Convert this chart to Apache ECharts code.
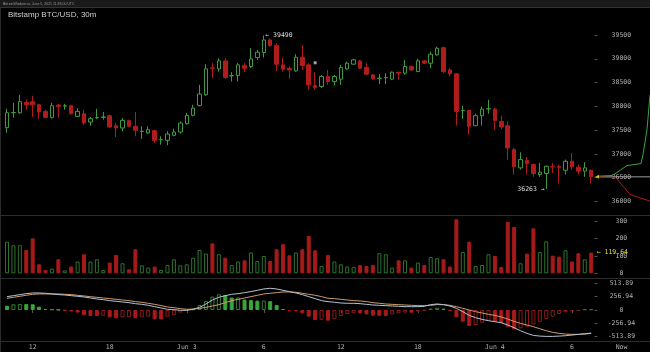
<!DOCTYPE html>
<html>
<head>
<meta charset="utf-8">
<title>Bitstamp BTC/USD, 30m</title>
<script src="https://cdn.jsdelivr.net/npm/echarts@6/dist/echarts.min.js"></script>
<style>
  html, body { margin: 0; padding: 0; background: #000; }
  #chart { width: 650px; height: 352px; }
</style>
</head>
<body>
<div id="chart"></div>
<script>
// 30m candles, Jun 2 10:00 -> Jun 4 07:30 (UTC)
const opens = [37551, 37865, 37865, 38082, 38096, 38033, 37893, 37767, 38026, 38005,
  38012, 37788, 37844, 37670, 37760, 37770, 37802, 37593, 37544, 37698,
  37579, 37470, 37440, 37488, 37295, 37285, 37390, 37460, 37635, 37810,
  38019, 38243, 38807, 38787, 38955, 38640, 38647, 38857, 38836, 39025,
  39130, 39395, 39276, 38871, 38802, 38745, 39032, 38871, 38438, 38417,
  38626, 38521, 38571, 38787, 38886, 38955, 38815, 38662, 38585, 38600,
  38571, 38718, 38697, 38836, 38731, 38955, 38907, 39081, 39234, 38766,
  38683, 37910, 37915, 37593, 37802, 37945, 37942, 37683, 37593, 37090,
  36706, 36859, 36775, 36566, 36587, 36733, 36730, 36656, 36845, 36720,
  36636, 36656];
const closes = [37865, 37870, 38096, 38033, 38033, 37880, 37767, 38012, 37998, 38012,
  37844, 37893, 37649, 37740, 37767, 37775, 37565, 37544, 37704, 37579,
  37495, 37475, 37510, 37285, 37300, 37418, 37460, 37649, 37810, 37963,
  38257, 38787, 38800, 38955, 38605, 38645, 38871, 38802, 38997, 39137,
  39395, 39276, 38886, 38781, 38766, 39032, 38857, 38452, 38396, 38626,
  38521, 38626, 38815, 38907, 38976, 38802, 38676, 38578, 38592, 38605,
  38718, 38697, 38836, 38766, 38955, 38907, 39095, 39221, 38731, 38683,
  37893, 37915, 37579, 37802, 37942, 37950, 37704, 37565, 37125, 36727,
  36880, 36796, 36587, 36613, 36740, 36725, 36720, 36845, 36727, 36636,
  36706, 36517];
const highs = [37949, 38075, 38242, 38138, 38221, 38054, 37928, 38075, 38054, 38054,
  38033, 37963, 37928, 37775, 37949, 37880, 37823, 37649, 37754, 37719,
  37880, 37579, 37579, 37510, 37370, 37475, 37530, 37683, 37860, 38033,
  38452, 38886, 38907, 39012, 39012, 38718, 38907, 38907, 39221, 39186,
  39490, 39430, 39326, 39032, 38836, 39095, 39290, 38907, 38718, 38662,
  38766, 38662, 38871, 38941, 38997, 38976, 38907, 38676, 38676, 38697,
  38731, 38718, 38976, 38857, 38997, 38976, 39150, 39255, 39255, 38802,
  38697, 38012, 37928, 37844, 37998, 38138, 37963, 37802, 37683, 37125,
  37034, 36936, 36796, 36810, 36755, 36810, 36775, 36880, 37020, 36775,
  36824, 36670];
const lows = [37446, 37760, 37844, 37928, 37781, 37740, 37760, 37740, 37760, 37928,
  37830, 37775, 37614, 37593, 37733, 37719, 37544, 37356, 37474, 37565,
  37369, 37314, 37425, 37230, 37195, 37180, 37370, 37425, 37614, 37788,
  37998, 38221, 38592, 38730, 38578, 38522, 38522, 38718, 38802, 38976,
  39025, 39255, 38745, 38730, 38578, 38730, 38766, 38347, 38347, 38383,
  38452, 38438, 38452, 38766, 38871, 38787, 38662, 38557, 38466, 38466,
  38557, 38557, 38662, 38745, 38718, 38886, 38802, 39067, 38697, 38626,
  37593, 37733, 37405, 37579, 37593, 37844, 37509, 37523, 36880, 36566,
  36670, 36566, 36517, 36517, 36263, 36600, 36377, 36566, 36670, 36566,
  36517, 36377];
const volumes = [183, 162, 162, 135, 202, 52, 19, 27, 81, 17,
  39, 68, 110, 68, 81, 19, 62, 106, 58, 23,
  139, 46, 33, 39, 19, 48, 81, 46, 52, 90,
  135, 114, 173, 110, 90, 48, 68, 75, 120, 71,
  100, 71, 139, 168, 104, 120, 139, 216, 133, 42,
  106, 68, 52, 39, 37, 48, 42, 48, 116, 110,
  33, 75, 75, 33, 62, 48, 94, 87, 81, 39,
  312, 123, 183, 42, 48, 110, 100, 37, 297, 268,
  58, 114, 260, 123, 185, 102, 96, 133, 68, 116,
  81, 119.64];
const macdDif = [257, 276, 296, 315, 328, 328, 322, 309, 296, 289,
  276, 264, 251, 231, 212, 199, 180, 167, 154, 141,
  122, 109, 90, 64, 39, 13, 6, -6, -6, 13,
  51, 116, 193, 244, 276, 302, 315, 334, 354, 379,
  405, 418, 405, 379, 354, 328, 296, 257, 219, 180,
  161, 148, 135, 129, 129, 122, 109, 96, 90, 84,
  77, 71, 64, 64, 64, 71, 103, 116, 103, 77,
  32, -32, -103, -148, -180, -206, -225, -244, -289, -341,
  -399, -450, -489, -502, -508, -508, -502, -495, -482, -469,
  -457, -444];
const macdDea = [225, 244, 264, 283, 302, 309, 309, 309, 309, 302,
  296, 283, 270, 257, 244, 231, 219, 206, 193, 180,
  161, 148, 129, 109, 84, 58, 45, 26, 13, 19,
  32, 51, 77, 103, 141, 180, 206, 231, 257, 283,
  309, 322, 334, 347, 347, 341, 322, 302, 283, 257,
  225, 219, 206, 193, 180, 174, 161, 141, 129, 116,
  109, 103, 96, 90, 84, 84, 90, 103, 103, 90,
  64, 32, 0, -32, -58, -84, -103, -135, -174, -219,
  -257, -289, -322, -360, -399, -431, -450, -463, -469, -469,
  -463, -450];
const macdHist = [83, 110, 116, 114, 110, 64, 19, 13, 6, -10,
  -30, -50, -96, -116, -118, -110, -141, -161, -141, -140,
  -161, -141, -129, -180, -183, -129, -96, -50, -13, 13,
  96, 174, 257, 302, 290, 240, 242, 200, 190, 180,
  182, 170, 96, 19, -19, -26, -64, -129, -193, -190,
  -206, -180, -116, -77, -64, -66, -84, -110, -112, -114,
  -84, -64, -50, -52, -26, -13, 26, 45, 26, -19,
  -141, -225, -309, -290, -245, -206, -225, -257, -322, -373,
  -354, -322, -277, -225, -174, -129, -77, -45, -19, -13,
  13, 14];

// x axis labels by candle index
const xLabels = { 4: '12', 16: '18', 28: 'Jun 3', 40: '6', 52: '12', 64: '18', 76: 'Jun 4', 88: '6' };
const macdTickLabels = ['-513.89', '-256.94', '0', '256.94', '513.89'];

// small white order marker [candle index, price]
const orderMarks = [[48, 38915]];

// order book depth at the right edge (x = px offset past last candle, y = price)
const bidX = [1, 15, 20, 30, 44, 46, 50, 53];
const bidPrice = [36530, 36545, 36608, 36754, 36796, 36985, 37509, 38242];
const askX = [1, 19, 23, 33, 46, 53];
const askPrice = [36517, 36496, 36392, 36146, 36056, 36006];

const start = Date.UTC(2021, 5, 2, 10, 0);
const categories = opens.map((_, i) => {
  const d = new Date(start + i * 30 * 60 * 1000);
  return (d.getUTCMonth() + 1) + '-' + d.getUTCDate() + ' ' + d.getUTCHours() + ':' + String(d.getUTCMinutes()).padStart(2, '0');
});
const lastPrice = closes[closes.length - 1];

const GREEN = '#3f9a3f';
const RED = '#b01c1c';
const monoFont = 'DejaVu Sans Mono';
const labelColor = '#b0b0b0';

const candleData = opens.map((o, i) => [o, closes[i], lows[i], highs[i]]);

const volumeData = volumes.map((v, i) => {
  const up = closes[i] >= opens[i];
  return {
    value: v,
    itemStyle: up
      ? { color: 'rgba(0,0,0,0)', borderColor: '#2f722f', borderWidth: 1 }
      : { color: '#a51a1a', borderColor: '#a51a1a', borderWidth: 1 }
  };
});

// filled when the histogram fell vs the previous bar, hollow when it rose
const histData = macdHist.map((v, i) => {
  const filled = i === 0 || v < macdHist[i - 1];
  const c = v >= 0 ? (filled ? '#3aa53a' : '#2f7f2f') : (filled ? '#a81a1a' : '#8c1a1a');
  return {
    value: v,
    itemStyle: { color: filled ? c : 'rgba(0,0,0,0)', borderColor: c, borderWidth: 1 }
  };
});

const GL = 3.8, GW = 590.6;
const axisLabelRight = {
  color: labelColor, fontFamily: monoFont, fontSize: 6.5, align: 'center', margin: 27
};

const chart = echarts.init(document.getElementById('chart'));
const option = {
  backgroundColor: '#000',
  animation: false,
  graphic: [
    { type: 'rect', shape: { x: 0, y: 0, width: 650, height: 7 }, style: { fill: '#1a1a1a' } },
    { type: 'line', shape: { x1: 0, y1: 7.5, x2: 650, y2: 7.5 }, style: { stroke: '#333', lineWidth: 1 } },
    { type: 'text', x: 3, y: 3.6, style: { text: 'BitcoinWisdom.io, June 5, 2021 11:33:00 UTC', fill: '#999', font: '3.5px sans-serif', verticalAlign: 'middle' } },
    { type: 'text', x: 8, y: 14.5, style: { text: 'Bitstamp BTC/USD, 30m', fill: '#cfcfcf', font: '8px "Liberation Sans", Arial, sans-serif', verticalAlign: 'middle' } },
    { type: 'line', shape: { x1: 0.5, y1: 7.5, x2: 0.5, y2: 352 }, style: { stroke: '#2c2c2c', lineWidth: 1 } },
    { type: 'line', shape: { x1: 0, y1: 215.5, x2: 650, y2: 215.5 }, style: { stroke: '#2c2c2c', lineWidth: 1 } },
    { type: 'line', shape: { x1: 0, y1: 278.5, x2: 650, y2: 278.5 }, style: { stroke: '#2c2c2c', lineWidth: 1 } },
    { type: 'line', shape: { x1: 0, y1: 341.5, x2: 650, y2: 341.5 }, style: { stroke: '#2c2c2c', lineWidth: 1 } },
    { type: 'text', x: 621.5, y: 347, style: { text: 'Now', fill: labelColor, font: '6.5px "DejaVu Sans Mono"', align: 'center', verticalAlign: 'middle' } }
  ],
  grid: [
    { left: GL, width: GW, top: 11.2, height: 214 },     // price
    { left: GL, width: GW, top: 204.1, height: 69.2 },   // volume
    { left: GL, width: GW, top: 283.3, height: 53.4 },   // macd
    { left: 597, width: 53, top: 11.2, height: 214 }     // depth
  ],
  xAxis: [
    { type: 'category', gridIndex: 0, data: categories, show: false },
    { type: 'category', gridIndex: 1, data: categories, show: false },
    {
      type: 'category', gridIndex: 2, data: categories, offset: 5,
      axisLine: { show: false },
      axisTick: { show: true, alignWithLabel: true, length: 3, interval: (i) => i in xLabels, lineStyle: { color: '#555' } },
      axisLabel: {
        interval: (i) => i in xLabels,
        formatter: (v, i) => xLabels[i] || '',
        color: labelColor, fontFamily: monoFont, fontSize: 6.5, margin: 2
      }
    },
    { type: 'value', gridIndex: 3, min: 0, max: 53, show: false }
  ],
  yAxis: [
    {
      type: 'value', gridIndex: 0, position: 'right', min: 35500, max: 40000, interval: 500,
      splitLine: { show: false }, axisLine: { show: false },
      axisTick: { show: true, length: 3, lineStyle: { color: '#555' } },
      axisLabel: Object.assign({ showMinLabel: false, showMaxLabel: false, formatter: (v) => String(v) }, axisLabelRight)
    },
    {
      type: 'value', gridIndex: 1, position: 'right', min: 0, max: 400, interval: 100,
      splitLine: { show: false }, axisLine: { show: false },
      axisTick: { show: true, length: 3, lineStyle: { color: '#555' } },
      axisLabel: Object.assign({ showMaxLabel: false, formatter: (v) => String(v) }, axisLabelRight)
    },
    {
      type: 'value', gridIndex: 2, position: 'right', min: -513.89, max: 513.89, interval: 256.945,
      splitLine: { show: false }, axisLine: { show: false },
      axisTick: { show: true, length: 3, lineStyle: { color: '#555' } },
      axisLabel: Object.assign({ formatter: (v) => macdTickLabels[Math.round(v / 256.945) + 2] }, axisLabelRight)
    },
    { type: 'value', gridIndex: 3, min: 35500, max: 40000, show: false }
  ],
  series: [
    {
      type: 'candlestick', xAxisIndex: 0, yAxisIndex: 0, data: candleData, barWidth: 4,
      itemStyle: { color: '#000', color0: RED, borderColor: GREEN, borderColor0: RED, borderWidth: 1 },
      markPoint: {
        symbol: 'circle', symbolSize: 1, itemStyle: { color: 'rgba(0,0,0,0)' },
        label: { color: '#dcdcdc', fontFamily: monoFont, fontSize: 6.5 },
        data: [
          { type: 'max', valueDim: 'highest', label: { position: 'right', distance: 1, formatter: (p) => '← ' + p.value } },
          { type: 'min', valueDim: 'lowest', label: { position: 'left', distance: 1, formatter: (p) => p.value + ' →' } }
        ]
      },
      z: 5
    },
    {
      type: 'scatter', xAxisIndex: 0, yAxisIndex: 0, data: orderMarks,
      symbol: 'rect', symbolSize: 3, itemStyle: { color: '#c8c8c8' }
    },
    {
      type: 'bar', xAxisIndex: 1, yAxisIndex: 1, data: volumeData, barWidth: 4,
      markPoint: {
        symbol: 'circle', symbolSize: 1, itemStyle: { color: 'rgba(0,0,0,0)' },
        data: [{ coord: [volumes.length - 1, volumes[volumes.length - 1]], value: volumes[volumes.length - 1] }],
        label: { position: 'right', distance: 5, formatter: (p) => '← ' + p.value, color: '#e8e030', fontFamily: monoFont, fontSize: 6.5 }
      }
    },
    { type: 'bar', xAxisIndex: 2, yAxisIndex: 2, data: histData, barWidth: 4 },
    {
      type: 'line', xAxisIndex: 2, yAxisIndex: 2, data: macdDea, symbol: 'none',
      lineStyle: { color: '#d09a6a', width: 1 }, z: 4
    },
    {
      type: 'line', xAxisIndex: 2, yAxisIndex: 2, data: macdDif, symbol: 'none',
      lineStyle: { color: '#b4c4d8', width: 1 }, z: 4
    },
    {
      type: 'line', xAxisIndex: 3, yAxisIndex: 3, data: [[0, lastPrice], [53, lastPrice]], symbol: 'none',
      lineStyle: { color: '#9a9a9a', width: 1 }
    },
    {
      type: 'line', xAxisIndex: 3, yAxisIndex: 3, data: bidX.map((x, i) => [x, bidPrice[i]]), symbol: 'none',
      lineStyle: { color: '#3aa53a', width: 1 }
    },
    {
      type: 'line', xAxisIndex: 3, yAxisIndex: 3, data: askX.map((x, i) => [x, askPrice[i]]), symbol: 'none',
      lineStyle: { color: '#b01c1c', width: 1 }
    },
    {
      type: 'scatter', xAxisIndex: 3, yAxisIndex: 3, data: [[0, lastPrice]],
      symbol: 'triangle', symbolRotate: 90, symbolSize: 4, itemStyle: { color: '#e8e030' }, z: 6
    }
  ]
};
chart.setOption(option);
</script>
</body>
</html>
